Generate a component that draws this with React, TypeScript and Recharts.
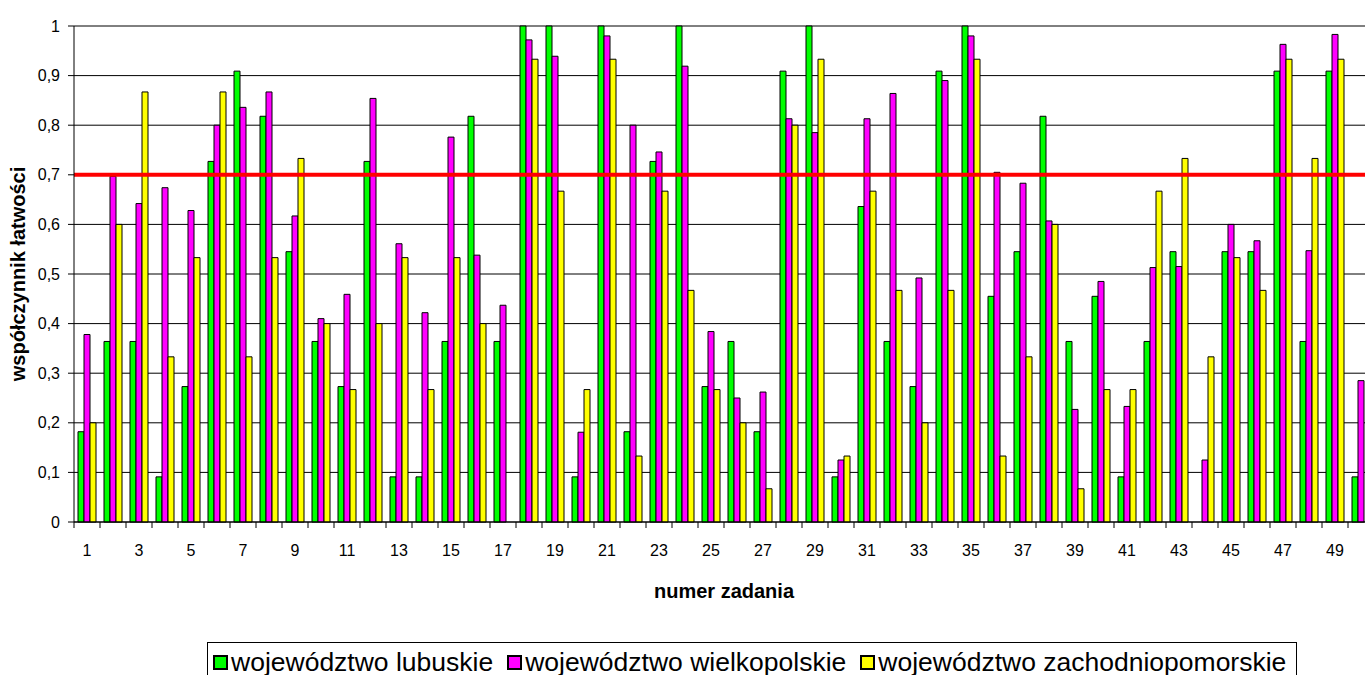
import React from 'react';
import {
  BarChart,
  Bar,
  XAxis,
  YAxis,
  CartesianGrid,
  ReferenceLine,
  Legend,
} from 'recharts';

const tasks: string[] = [
  '1', '2', '3', '4', '5', '6', '7', '8', '9', '10',
  '11', '12', '13', '14', '15', '16', '17', '18', '19', '20',
  '21', '22', '23', '24', '25', '26', '27', '28', '29', '30',
  '31', '32', '33', '34', '35', '36', '37', '38', '39', '40',
  '41', '42', '43', '44', '45', '46', '47', '48', '49', '50',
];

const lubuskie: (number | null)[] = [
  0.182, 0.364, 0.364, 0.091, 0.273, 0.727, 0.909, 0.818, 0.545, 0.364,
  0.273, 0.727, 0.091, 0.091, 0.364, 0.818, 0.364, 1, 1, 0.091,
  1, 0.182, 0.727, 1, 0.273, 0.364, 0.182, 0.909, 1, 0.091,
  0.636, 0.364, 0.273, 0.909, 1, 0.455, 0.545, 0.818, 0.364, 0.455,
  0.091, 0.364, 0.545, 0, 0.545, 0.545, 0.909, 0.364, 0.909, 0.091,
];

const wielkopolskie: (number | null)[] = [
  0.378, 0.697, 0.642, 0.674, 0.628, 0.8, 0.836, 0.867, 0.617, 0.41,
  0.459, 0.854, 0.561, 0.422, 0.776, 0.538, 0.437, 0.972, 0.939, 0.181,
  0.98, 0.8, 0.746, 0.919, 0.384, 0.25, 0.262, 0.813, 0.785, 0.125,
  0.813, 0.864, 0.492, 0.89, 0.98, 0.705, 0.683, 0.607, 0.227, 0.485,
  0.233, 0.513, 0.515, 0.125, 0.6, 0.567, 0.963, 0.547, 0.983, 0.285,
];

const zachodniopomorskie: (number | null)[] = [
  0.2, 0.6, 0.867, 0.333, 0.533, 0.867, 0.333, 0.533, 0.733, 0.4,
  0.267, 0.4, 0.533, 0.267, 0.533, 0.4, 0, 0.933, 0.667, 0.267,
  0.933, 0.133, 0.667, 0.467, 0.267, 0.2, 0.067, 0.8, 0.933, 0.133,
  0.667, 0.467, 0.2, 0.467, 0.933, 0.133, 0.333, 0.6, 0.067, 0.267,
  0.267, 0.667, 0.733, 0.333, 0.533, 0.467, 0.933, 0.733, 0.933, null,
];

const yTicks: number[] = [0, 0.1, 0.2, 0.3, 0.4, 0.5, 0.6, 0.7, 0.8, 0.9, 1];
const threshold = 0.7;

const seriesNames = [
  'województwo lubuskie',
  'województwo wielkopolskie',
  'województwo zachodniopomorskie',
];
const seriesColors = ['#00FF00', '#FF00FF', '#FFFF00'];

const data = tasks.map((t, i) => ({
  task: t,
  lub: lubuskie[i],
  wlkp: wielkopolskie[i],
  zach: zachodniopomorskie[i],
}));

const FONT = '"Liberation Sans", Arial, sans-serif';

const XTick = (props: any) => {
  const { x, y, payload, index } = props;
  const half = payload && typeof payload.offset === 'number' && payload.offset > 0 ? payload.offset : 13;
  const idx = typeof index === 'number' ? index : payload.index;
  const showLabel = idx % 2 === 0;
  return (
    <g>
      <line x1={x - half} x2={x - half} y1={y - 6} y2={y} stroke="#000" strokeWidth={1} />
      {idx === tasks.length - 1 && (
        <line x1={x + half} x2={x + half} y1={y - 6} y2={y} stroke="#000" strokeWidth={1} />
      )}
      {showLabel && (
        <text x={x} y={y + 28} textAnchor="middle" fontSize={16} fontFamily={FONT} fill="#000">
          {payload.value}
        </text>
      )}
    </g>
  );
};

const LegendBox = () => (
  <div style={{ position: 'relative', height: 48 }}>
    <div
      style={{
        position: 'absolute',
        left: 207,
        top: 0,
        height: 48,
        boxSizing: 'border-box',
        border: '1px solid #000',
        display: 'inline-flex',
        alignItems: 'flex-start',
        paddingLeft: 5,
        paddingRight: 10,
        paddingTop: 4,
        fontFamily: FONT,
        fontSize: 26.5,
        color: '#000',
        whiteSpace: 'nowrap',
        background: '#fff',
      }}
    >
      {seriesNames.map((n, i) => (
        <span key={n} style={{ display: 'inline-flex', alignItems: 'center', marginRight: i < 2 ? 14 : 0 }}>
          <span
            style={{
              display: 'inline-block',
              width: 15,
              height: 15,
              boxSizing: 'border-box',
              border: '2px solid #000',
              background: seriesColors[i],
              marginRight: 3,
            }}
          />
          <span>{n}</span>
        </span>
      ))}
    </div>
  </div>
);

export default function App() {
  return (
    <div
      style={{
        position: 'absolute',
        left: 0,
        top: 0,
        width: 1365,
        height: 675,
        overflow: 'hidden',
        background: '#fff',
      }}
    >
      <BarChart
        width={1374}
        height={690}
        data={data}
        margin={{ top: 26, right: 0, bottom: 0, left: 0 }}
        barCategoryGap={4}
        barGap={0}
      >
        <CartesianGrid horizontal vertical={false} stroke="#000" strokeWidth={1} />
        <XAxis
          dataKey="task"
          height={120}
          interval={0}
          tickLine={false}
          tickSize={6}
          tickMargin={0}
          axisLine={{ stroke: '#000' }}
          tick={<XTick />}
          label={{
            value: 'numer zadania',
            position: 'insideTop',
            offset: 62,
            style: { fontFamily: FONT, fontSize: 20, fontWeight: 'bold', fill: '#000' },
          }}
        />
        <YAxis
          width={74}
          domain={[0, 1]}
          ticks={yTicks}
          interval={0}
          tickSize={6}
          tickMargin={8}
          tickLine={{ stroke: '#000' }}
          axisLine={{ stroke: '#000' }}
          tick={{ fontSize: 16, fontFamily: FONT, fill: '#000' }}
          tickFormatter={(v: number) => String(v).replace('.', ',')}
          label={{
            value: 'współczynnik łatwości',
            content: (p: any) => {
              const vb = p.viewBox || { x: 0, y: 26, width: 74, height: 496 };
              const cx = vb.x + 18;
              const cy = vb.y + vb.height / 2;
              return (
                <text
                  x={cx}
                  y={cy}
                  transform={`rotate(-90 ${cx} ${cy})`}
                  textAnchor="middle"
                  dominantBaseline="central"
                  fontFamily={FONT}
                  fontSize={20}
                  fontWeight="bold"
                  fill="#000"
                >
                  współczynnik łatwości
                </text>
              );
            },
          }}
        />
        <Legend verticalAlign="bottom" content={<LegendBox />} />
        <Bar dataKey="lub" name={seriesNames[0]} fill={seriesColors[0]} stroke="#000" strokeWidth={1} isAnimationActive={false} />
        <Bar dataKey="wlkp" name={seriesNames[1]} fill={seriesColors[1]} stroke="#000" strokeWidth={1} isAnimationActive={false} />
        <Bar dataKey="zach" name={seriesNames[2]} fill={seriesColors[2]} stroke="#000" strokeWidth={1} isAnimationActive={false} />
        <ReferenceLine y={threshold} stroke="#FF0000" strokeWidth={4} ifOverflow="extendDomain" />
      </BarChart>
    </div>
  );
}
